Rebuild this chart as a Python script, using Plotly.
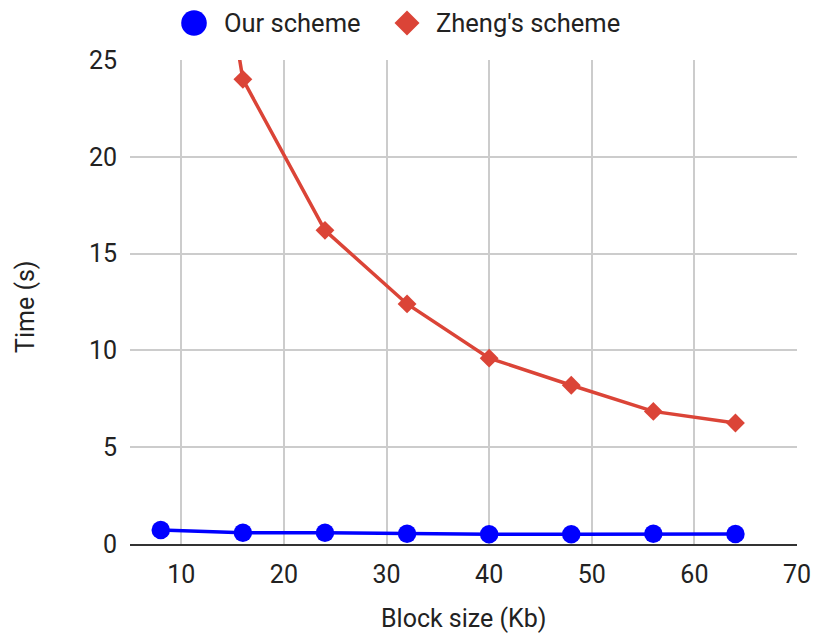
import plotly.graph_objects as go

block_size = [8, 16, 24, 32, 40, 48, 56, 64]
our_scheme = [0.72, 0.58, 0.58, 0.53, 0.50, 0.50, 0.53, 0.52]
zheng_scheme = [50.0, 24.0, 16.2, 12.4, 9.6, 8.2, 6.85, 6.25]
x_ticks = [10, 20, 30, 40, 50, 60, 70]
y_ticks = [0, 5, 10, 15, 20, 25]
series_names = ["Our scheme", "Zheng's scheme"]
x_title = "Block size (Kb)"
y_title = "Time (s)"

BLUE = "#0000FF"
RED = "#DB4437"
FONT = "Roboto"
TXT = "#222222"
FS = 25

W, H = 814, 634
L, R, T, B = 130, 17, 60, 90
PW = W - L - R
PH = H - T - B

fig = go.Figure()
fig.add_trace(go.Scatter(
    x=block_size, y=zheng_scheme, mode="lines+markers", name=series_names[1],
    line=dict(color=RED, width=3.5),
    marker=dict(symbol="diamond", size=14.5, color=RED),
    showlegend=False,
))
fig.add_trace(go.Scatter(
    x=block_size, y=our_scheme, mode="lines+markers", name=series_names[0],
    line=dict(color=BLUE, width=3.5),
    marker=dict(symbol="circle", size=18.5, color=BLUE),
    showlegend=False,
))


def px_x(p):
    return (p - L) / PW


def px_y(p):
    return (H - B - p) / PH


legend_y = 23
shapes = [
    dict(type="circle", xref="paper", yref="paper", xsizemode="pixel", ysizemode="pixel",
         xanchor=px_x(194), yanchor=px_y(legend_y), x0=-12.8, x1=12.8, y0=-12.8, y1=12.8,
         fillcolor=BLUE, line=dict(width=0)),
    dict(type="path", xref="paper", yref="paper", xsizemode="pixel", ysizemode="pixel",
         xanchor=px_x(407), yanchor=px_y(legend_y),
         path="M 0,-12.5 L 12.5,0 L 0,12.5 L -12.5,0 Z",
         fillcolor=RED, line=dict(width=0)),
]
tf = dict(family=FONT, size=FS, color=TXT)
lf = dict(family=FONT, size=25.5, color=TXT)
annotations = [
    dict(text=series_names[0], xref="paper", yref="paper", x=px_x(222), y=px_y(legend_y),
         xanchor="left", yanchor="middle", showarrow=False, font=lf),
    dict(text=series_names[1], xref="paper", yref="paper", x=px_x(434), y=px_y(legend_y),
         xanchor="left", yanchor="middle", showarrow=False, font=lf),
    dict(text=x_title, xref="paper", yref="paper", x=px_x(464), y=px_y(618),
         xanchor="center", yanchor="middle", showarrow=False, font=tf),
    dict(text=y_title, xref="paper", yref="paper", x=px_x(25), y=px_y(307),
         xanchor="center", yanchor="middle", showarrow=False, font=tf, textangle=-90),
]

fig.update_layout(
    width=W, height=H,
    margin=dict(l=L, r=R, t=T, b=B, pad=0, autoexpand=False),
    paper_bgcolor="white", plot_bgcolor="white",
    font=tf,
    shapes=shapes, annotations=annotations,
    showlegend=False,
)
fig.update_xaxes(
    range=[5, 70], tickvals=x_ticks, ticktext=[str(v) for v in x_ticks],
    showgrid=True, gridcolor="#cccccc", gridwidth=2,
    zeroline=False, showline=True, linecolor="#333333", linewidth=2,
    ticks="outside", ticklen=7, tickcolor="rgba(0,0,0,0)",
    automargin=False, tickfont=tf, ticklabeloverflow="allow",
)
fig.update_yaxes(
    range=[0, 25], tickvals=y_ticks, ticktext=[str(v) for v in y_ticks],
    showgrid=True, gridcolor="#cccccc", gridwidth=2,
    zeroline=False, showline=False,
    ticks="outside", ticklen=7, tickcolor="rgba(0,0,0,0)",
    automargin=False, tickfont=tf, ticklabeloverflow="allow",
)

fig.write_html(
    "out.html",
    config={"displayModeBar": False},
    post_script="document.body.style.margin='0';document.body.style.overflow='hidden';",
)
